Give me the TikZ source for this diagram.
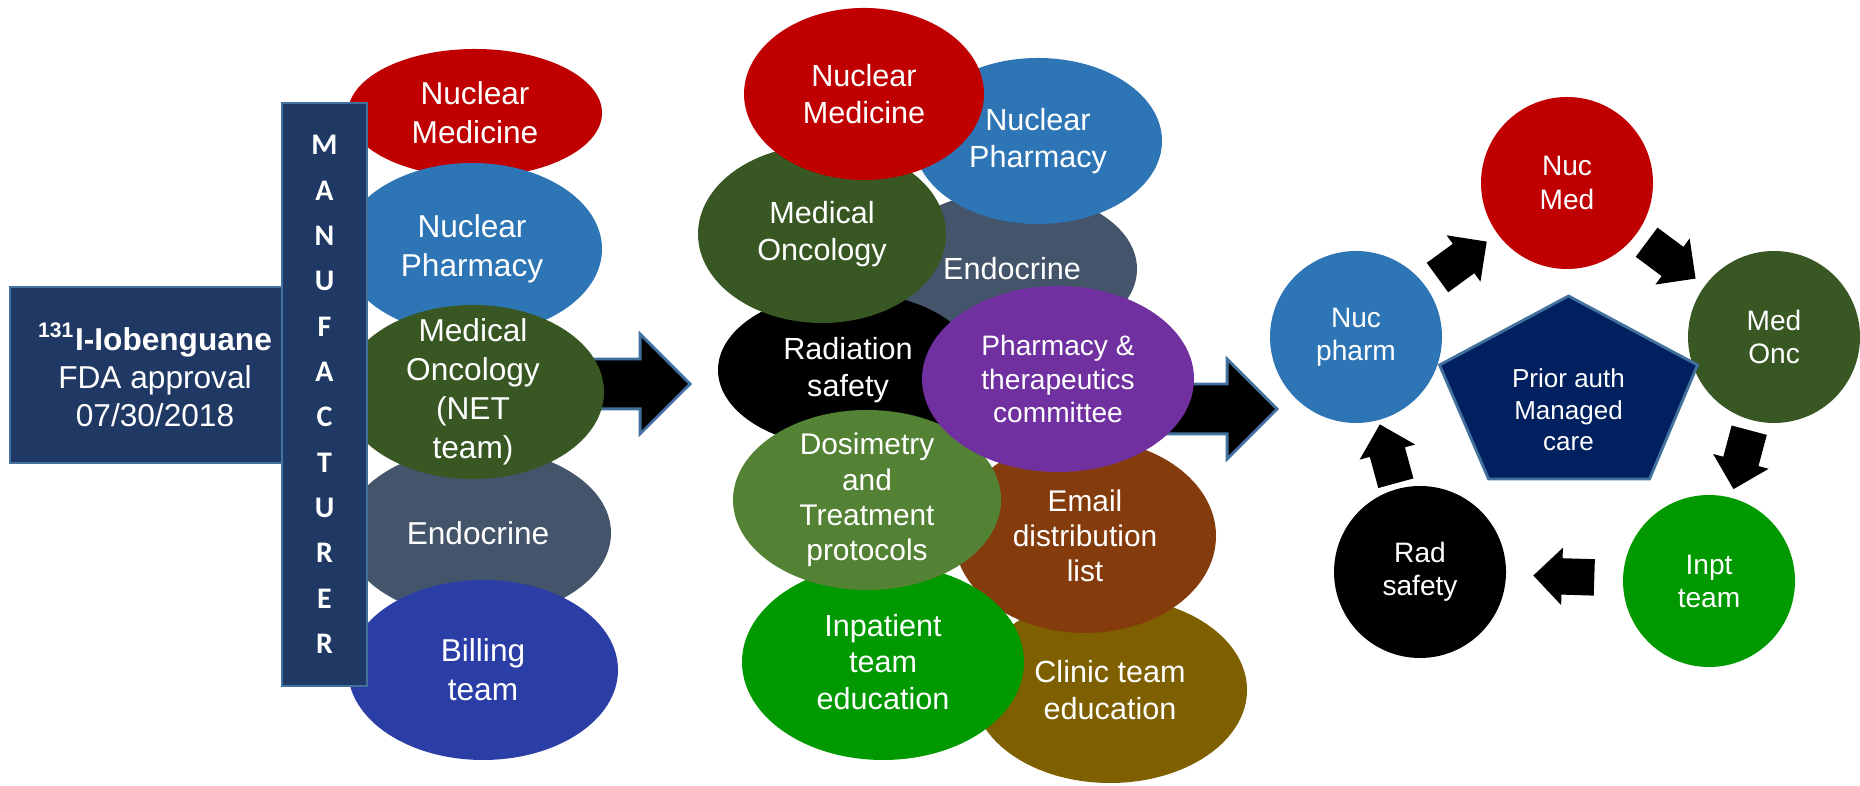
\documentclass[tikz,border=0pt]{standalone}
\usepackage{fontspec}
\setmainfont{Liberation Sans}
\newfontfamily\barfont{Carlito}
\usetikzlibrary{shapes.geometric, shapes.arrows, calc}

\definecolor{navy}{HTML}{203864}
\definecolor{edgeblue}{HTML}{41719C}
\definecolor{nmred}{HTML}{C00000}
\definecolor{npblue}{HTML}{2E75B6}
\definecolor{oncgreen}{HTML}{385723}
\definecolor{endoslate}{HTML}{44546A}
\definecolor{billblue}{HTML}{2A3EA6}
\definecolor{ptpurple}{HTML}{7030A0}
\definecolor{dosgreen}{HTML}{548235}
\definecolor{mailbrown}{HTML}{843C0C}
\definecolor{inptgreen}{HTML}{009900}
\definecolor{clinolive}{HTML}{7F6000}
\definecolor{pentnavy}{HTML}{002060}

\tikzset{
  % ellipses: the given size wins, text never stretches them
  blob/.style={
    ellipse,
    inner sep=-3mm,
    align=center,
    text=white,
    font=\fontsize{9}{10.8}\selectfont,
  },
  lblob/.style={blob, font=\fontsize{9}{11.1}\selectfont},
  mblob/.style={blob, font=\fontsize{8.7}{10.5}\selectfont},
  cblob/.style={blob, circle, minimum size=1.72cm, font=\fontsize{8}{9.4}\selectfont},
  navybox/.style={
    draw=edgeblue,
    line width=0.8pt,
    fill=navy,
    text=white,
    align=center,
    inner sep=0pt,
  },
  % shaft half width = inner ysep, head sticks out by head extend
  bigarr/.style={
    single arrow,
    anchor=tip,
    fill=black,
    draw=edgeblue,
    line width=0.8pt,
    inner xsep=0pt,
    inner ysep=0.235cm,
    single arrow head extend=0.25cm,
  },
  cycarr/.style={
    single arrow,
    anchor=tail,
    fill=black,
    inner xsep=0pt,
    inner ysep=0.175cm,
    minimum height=0.61cm,
    single arrow head extend=0.105cm,
  },
}

\begin{document}
\begin{tikzpicture}
  \useasboundingbox (0,0) rectangle (18.6,7.86);

  % stage arrows go underneath the ellipses, placed by their tips
  \node[bigarr, minimum height=1.32cm] (arrA) at (6.92,4.02) {};
  \node[bigarr, minimum height=1.29cm] (arrB) at (12.79,3.77) {};

  % left column
  \node[lblob, fill=nmred, minimum width=2.54cm, minimum height=1.28cm] (lnm) at (4.75,6.73) {Nuclear\\Medicine};
  \node[lblob, fill=npblue, minimum width=2.60cm, minimum height=1.72cm] (lnp) at (4.72,5.37) {Nuclear\\Pharmacy};
  \node[lblob, fill=endoslate, minimum width=2.66cm, minimum height=1.70cm] (lendo) at (4.78,2.53) {Endocrine};
  \node[lblob, fill=oncgreen, minimum width=2.62cm, minimum height=1.74cm] (lonc) at (4.73,3.94) {Medical\\Oncology\\(NET\\team)};
  \node[lblob, fill=billblue, minimum width=2.70cm, minimum height=1.80cm] (lbill) at (4.83,1.16) {Billing\\team};

  \node[navybox, minimum width=2.90cm, minimum height=1.76cm, font=\fontsize{9}{10.8}\selectfont] (drug) at (1.55,4.11)
    {\textbf{\textsuperscript{131}I-Iobenguane}\\FDA approval\\07/30/2018};
  \node[navybox, minimum width=0.85cm, minimum height=5.83cm, font=\barfont\bfseries\fontsize{8.5}{12.9}\selectfont] (maker) at (3.245,3.915)
    {M\\A\\N\\U\\F\\A\\C\\T\\U\\R\\E\\R};

  % middle cluster, back to front
  \node[mblob, fill=endoslate, minimum width=2.50cm, minimum height=1.56cm] (mendo) at (10.12,5.17) {Endocrine};
  \node[mblob, fill=npblue, minimum width=2.48cm, minimum height=1.66cm] (mnp) at (10.38,6.45) {Nuclear\\Pharmacy};
  \node[mblob, fill=black, minimum width=2.60cm, minimum height=1.56cm] (mrad) at (8.48,4.16) {Radiation\\safety};
  \node[mblob, fill=oncgreen, minimum width=2.48cm, minimum height=1.78cm] (monc) at (8.22,5.52) {Medical\\Oncology};
  \node[mblob, fill=nmred, minimum width=2.40cm, minimum height=1.72cm] (mnm) at (8.64,6.92) {Nuclear\\Medicine};
  \node[mblob, fill=clinolive, minimum width=2.74cm, minimum height=1.86cm] (mclin) at (11.10,0.96) {Clinic team\\education};
  \node[mblob, fill=mailbrown, minimum width=2.62cm, minimum height=1.94cm, font=\fontsize{8.5}{10}\selectfont] (mmail) at (10.85,2.50) {Email\\distribution\\list};
  \node[mblob, fill=inptgreen, minimum width=2.82cm, minimum height=1.96cm] (minpt) at (8.83,1.24) {Inpatient\\team\\education};
  \node[mblob, fill=dosgreen, minimum width=2.68cm, minimum height=1.80cm, font=\fontsize{8.5}{10}\selectfont] (mdos) at (8.67,2.86) {Dosimetry\\and\\Treatment\\protocols};
  \node[mblob, fill=ptpurple, minimum width=2.72cm, minimum height=1.86cm, font=\fontsize{8}{9.4}\selectfont] (mpt) at (10.58,4.07) {Pharmacy \&\\therapeutics\\committee};

  % care cycle
  \node[cblob, fill=nmred] (cmed) at (15.67,6.03) {Nuc\\Med};
  \node[cblob, fill=oncgreen] (conc) at (17.74,4.49) {Med\\Onc};
  \node[cblob, fill=inptgreen] (cinpt) at (17.09,2.05) {Inpt\\team};
  \node[cblob, fill=black] (crad) at (14.20,2.14) {Rad\\safety};
  \node[cblob, fill=npblue] (cpharm) at (13.56,4.49) {Nuc\\pharm};

  \coordinate (pc) at (15.685,3.76);
  \draw[draw=edgeblue, line width=0.8pt, fill=pentnavy]
    ($(pc)+(0,1.14)$) -- ($(pc)+(1.29,0.45)$) -- ($(pc)+(0.81,-0.69)$)
    -- ($(pc)+(-0.80,-0.69)$) -- ($(pc)+(-1.29,0.45)$) -- cycle;
  \node[align=center, text=white, font=\fontsize{7.4}{9}\selectfont] (prior) at (pc) {Prior auth\\Managed\\care};

  % each arrow sits halfway between two circles
  \foreach \a/\b in {cpharm/cmed, cmed/conc, conc/cinpt, cinpt/crad, crad/cpharm} {
    \path let \p1 = ($(\b)-(\a)$), \n1 = {atan2(\y1,\x1)}, \p2 = ($(\a)!0.5!(\b)$) in
      node[cycarr, rotate=\n1] (arr-\a) at ($(\p2)!0.305cm!(\a)$) {};
  }
\end{tikzpicture}
\end{document}
